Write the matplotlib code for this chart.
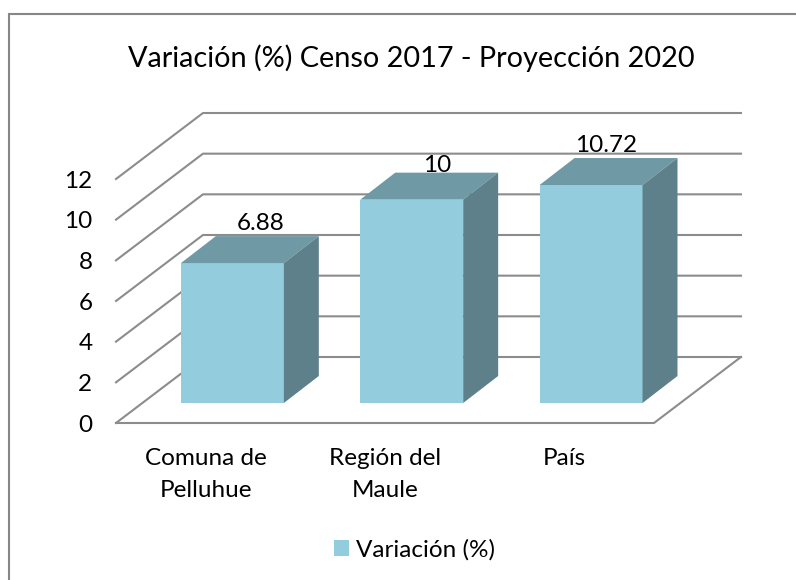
import matplotlib
matplotlib.use("Agg")
import matplotlib.pyplot as plt
from matplotlib.patches import Polygon, Rectangle

categories = ["Comuna de\nPelluhue", "Región del\nMaule", "País"]
values = [6.88, 10, 10.72]
value_labels = ["6.88", "10", "10.72"]
y_ticks = [0, 2, 4, 6, 8, 10, 12]
title = "Variación (%) Censo 2017 - Proyección 2020"
series_name = "Variación (%)"

W, H = 796, 580
FACE = "#93cddd"
TOP = "#7099a6"
SIDE = "#5e808a"
GRID = "#8c8c8c"

# fausse 3D: decalages en unites de donnees
WALL_DX, WALL_DY = 0.485, 3.246
BAR_DX, BAR_DY = 0.149, 0.984
DEPTH_DX, DEPTH_DY = 0.195, 1.328
BAR_W = 0.574
LABEL_DX = [7.5, 6, -2]
LABEL_PAD = [4.5, 0.5, 4.5]

plt.rcParams["font.family"] = ["Lato", "DejaVu Sans"]

fig = plt.figure(figsize=(W / 100, H / 100), dpi=100)
# le cadre sort de l'image a droite et en bas
fig.patches.append(Rectangle((9 / W, 1 - 600 / H), 810 / W, 586 / H, transform=fig.transFigure,
                             facecolor="white", edgecolor="#868686", linewidth=1.5, zorder=-1))

ax = fig.add_axes([116 / W, 1 - 423 / H, 538 / W, 244 / H])
ax.set_xlim(-0.5, 2.5)
ax.set_ylim(0, 12)
ax.patch.set_visible(False)
for s in ax.spines.values():
    s.set_visible(False)

x_left, x_right = ax.get_xlim()
for t in y_ticks:
    # mur du fond et mur de gauche
    ax.plot([x_left, x_left + WALL_DX, x_right + WALL_DX],
            [t, t + WALL_DY, t + WALL_DY], color=GRID, lw=1.5, clip_on=False, zorder=1)
ax.plot([x_left, x_right, x_right + WALL_DX], [0, 0, WALL_DY], color=GRID, lw=1.5, clip_on=False, zorder=1)

for i, v in enumerate(values):
    x0 = i - BAR_W / 2 + BAR_DX
    x1 = x0 + BAR_W
    base = BAR_DY
    ax.bar(x0, v, width=BAR_W, bottom=base, align="edge", color=FACE, zorder=3,
           clip_on=False, label=series_name if i == 0 else None)
    top_pts = [(x0, base + v), (x1, base + v), (x1 + DEPTH_DX, base + v + DEPTH_DY), (x0 + DEPTH_DX, base + v + DEPTH_DY)]
    side_pts = [(x1, base), (x1 + DEPTH_DX, base + DEPTH_DY), (x1 + DEPTH_DX, base + v + DEPTH_DY), (x1, base + v)]
    ax.add_patch(Polygon(top_pts, facecolor=TOP, edgecolor="none", zorder=3, clip_on=False))
    ax.add_patch(Polygon(side_pts, facecolor=SIDE, edgecolor="none", zorder=3, clip_on=False))
    ax.annotate(value_labels[i], (i + BAR_DX + DEPTH_DX / 2, base + v + DEPTH_DY),
                xytext=(LABEL_DX[i], LABEL_PAD[i]),
                textcoords="offset points", ha="center", va="baseline", fontsize=17.5, zorder=2,
                annotation_clip=False)

ax.set_yticks(y_ticks)
ax.set_xticks(range(len(categories)))
ax.set_xticklabels(categories, linespacing=1.65)
ax.tick_params(axis="both", length=0, labelsize=17.5)
ax.tick_params(axis="y", pad=17)
ax.tick_params(axis="x", pad=18)

fig.text(411 / W, 1 - 58 / H, title, ha="center", va="center", fontsize=20.8)

handles, labels = ax.get_legend_handles_labels()
fig.legend(handles, labels, loc="center", bbox_to_anchor=(414.5 / W, 1 - 550 / H), frameon=False,
           fontsize=17.5, handlelength=0.62, handleheight=0.62, handletextpad=0.29)

fig.savefig("out.png", dpi=100, facecolor="white")
